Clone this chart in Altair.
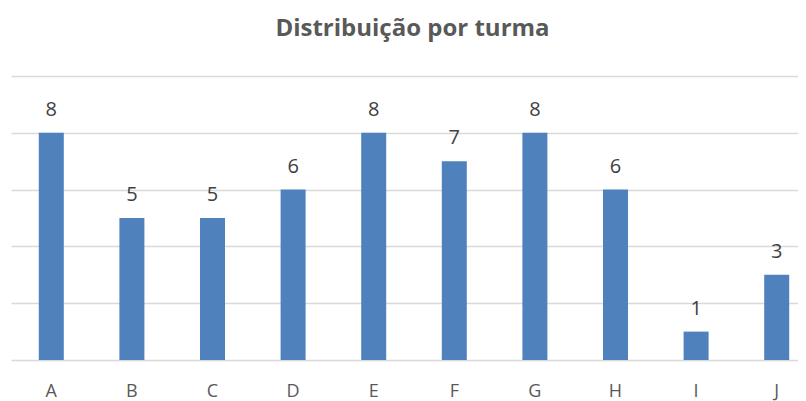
import altair as alt
import pandas as pd

turmas = ["A", "B", "C", "D", "E", "F", "G", "H", "I", "J"]
valores = [8, 5, 5, 6, 8, 7, 8, 6, 1, 3]

df = pd.DataFrame({"turma": turmas, "valor": valores})

FONT = "Open Sans"

x = alt.X(
    "turma:N",
    sort=turmas,
    title=None,
    scale=alt.Scale(range=[0, 806], paddingInner=0, paddingOuter=0),
    axis=alt.Axis(
        labelAngle=0,
        ticks=False,
        domain=False,
        labelFontSize=18,
        labelColor="#595959",
        labelFont=FONT,
        labelPadding=22,
        grid=False,
    ),
)
y = alt.Y(
    "valor:Q",
    title=None,
    scale=alt.Scale(domain=[0, 10], nice=False),
    axis=alt.Axis(
        values=[0, 2, 4, 6, 8, 10],
        labels=False,
        ticks=False,
        domain=False,
        grid=True,
        gridColor="#d9d9d9",
        gridWidth=1.3,
    ),
)

bars = alt.Chart(df).mark_bar(width=25, color="#4F81BD").encode(x=x, y=y)
text = alt.Chart(df).mark_text(
    baseline="alphabetic", dy=-17, fontSize=20, color="#404040", font=FONT
).encode(x=x, y=y, text="valor:Q")

chart = (
    alt.layer(bars, text)
    .properties(
        width=787,
        height=284,
        autosize=alt.AutoSizeParams(type="none"),
        padding={"left": 3, "top": 68, "right": 0, "bottom": 45},
        view=alt.ViewBackground(stroke="transparent", strokeWidth=0),
        title=alt.TitleParams(
            "Distribuição por turma",
            fontSize=24,
            fontWeight="bold",
            color="#595959",
            font=FONT,
            anchor="middle",
            offset=35,
            dx=8,
        ),
    )
    .configure_view(stroke="transparent", strokeWidth=0)
    .configure(background="white")
)

chart.save("out.html", embed_options={"renderer": "svg", "actions": False})
